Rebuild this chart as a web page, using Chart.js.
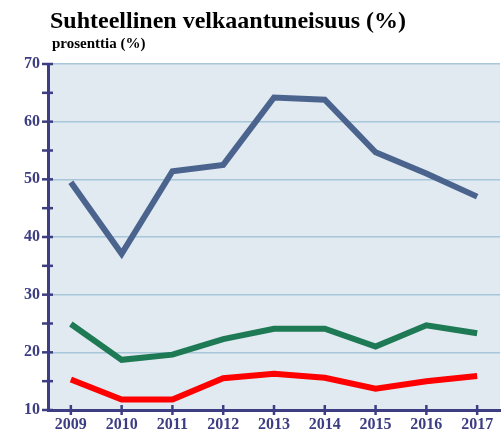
<!DOCTYPE html>
<html>
<head>
<meta charset="utf-8">
<script src="https://cdn.jsdelivr.net/npm/chart.js@4"></script>
<style>
  body { margin: 0; background: #fff; }
  #wrap { position: relative; width: 502px; height: 430px; }
  .title { position: absolute; left: 50px; top: 7px; font: bold 24px "Liberation Serif", "Times New Roman", serif; color: #000; white-space: nowrap; }
  .sub { position: absolute; left: 52px; top: 35px; font: bold 15px "Liberation Serif", "Times New Roman", serif; color: #000; white-space: nowrap; }
  canvas { position: absolute; left: 0; top: 0; }
</style>
</head>
<body>
<div id="wrap">
  <canvas id="chart" width="502" height="430"></canvas>
  <div class="title">Suhteellinen velkaantuneisuus (%)</div>
  <div class="sub">prosenttia (%)</div>
</div>
<script>
const years = [2009, 2010, 2011, 2012, 2013, 2014, 2015, 2016, 2017];
const blueSeries = [49.5, 37.1, 51.4, 52.5, 64.2, 63.8, 54.7, 51.0, 47.0];
const greenSeries = [24.9, 18.7, 19.6, 22.3, 24.1, 24.1, 21.0, 24.7, 23.3];
const redSeries = [15.3, 11.8, 11.8, 15.5, 16.3, 15.6, 13.7, 15.0, 15.9];
const yTicks = [10, 20, 30, 40, 50, 60, 70];

const navy = '#3d3d82';

const toPoints = vals => vals.map((v, i) => ({ x: years[i], y: v }));

// light plot background
const plotBg = {
    id: 'plotBg',
    beforeDraw(chart) {
        const { ctx, chartArea: a } = chart;
        ctx.save();
        ctx.fillStyle = '#e1e9f1';
        ctx.fillRect(a.left, a.top, a.right - a.left, a.bottom - a.top);
        ctx.restore();
    }
};

// tick marks that cross the axis lines
const crossTicks = {
    id: 'crossTicks',
    afterDraw(chart) {
        const { ctx, scales } = chart;
        const x = scales.x, y = scales.y;
        ctx.save();
        ctx.strokeStyle = navy;
        ctx.lineWidth = 2.5;
        y.ticks.forEach(t => {
            const py = y.getPixelForValue(t.value);
            ctx.beginPath();
            ctx.moveTo(y.right - 6, py);
            ctx.lineTo(y.right + 5, py);
            ctx.stroke();
        });
        x.ticks.forEach(t => {
            const px = x.getPixelForValue(t.value);
            ctx.beginPath();
            ctx.moveTo(px, x.top - 5);
            ctx.lineTo(px, x.top + 5);
            ctx.stroke();
        });
        ctx.restore();
    }
};

const lineStyle = {
    borderWidth: 6,
    pointRadius: 0,
    tension: 0,
    fill: false,
    borderJoinStyle: 'miter',
    borderCapStyle: 'butt'
};

new Chart(document.getElementById('chart'), {
    type: 'line',
    data: {
        datasets: [
            { ...lineStyle, data: toPoints(blueSeries), borderColor: '#4b648e' },
            { ...lineStyle, data: toPoints(greenSeries), borderColor: '#1e7a54' },
            { ...lineStyle, data: toPoints(redSeries), borderColor: '#ff0000' }
        ]
    },
    options: {
        responsive: false,
        animation: false,
        layout: { padding: { top: 64, right: 2, bottom: 0, left: 0 } },
        plugins: { legend: { display: false }, tooltip: { enabled: false } },
        scales: {
            x: {
                type: 'linear',
                min: 2008.55,
                max: 2017.45,
                afterBuildTicks: s => { s.ticks = years.map(v => ({ value: v })); },
                afterFit: s => { s.height = 20; },
                grid: { display: false, drawTicks: false },
                border: { color: navy, width: 3 },
                ticks: {
                    padding: 5,
                    color: navy,
                    font: { family: '"Liberation Serif", serif', size: 16, weight: 'bold' },
                    callback: v => String(v),
                    maxRotation: 0
                }
            },
            y: {
                min: 10,
                max: 70,
                afterBuildTicks: s => {
                    const t = [];
                    for (let v = 10; v <= 70; v += 5) t.push({ value: v });
                    s.ticks = t;
                },
                afterFit: s => { s.width = 48; },
                grid: {
                    drawTicks: false,
                    lineWidth: 1.5,
                    color: c => (yTicks.includes(c.tick.value) && c.tick.value !== 10) ? '#a7c6da' : 'rgba(0,0,0,0)'
                },
                border: { color: navy, width: 3 },
                ticks: {
                    padding: 8,
                    color: navy,
                    font: { family: '"Liberation Serif", serif', size: 16, weight: 'bold' },
                    callback: v => yTicks.includes(v) ? String(v) : ''
                }
            }
        }
    },
    plugins: [plotBg, crossTicks]
});
</script>
</body>
</html>
